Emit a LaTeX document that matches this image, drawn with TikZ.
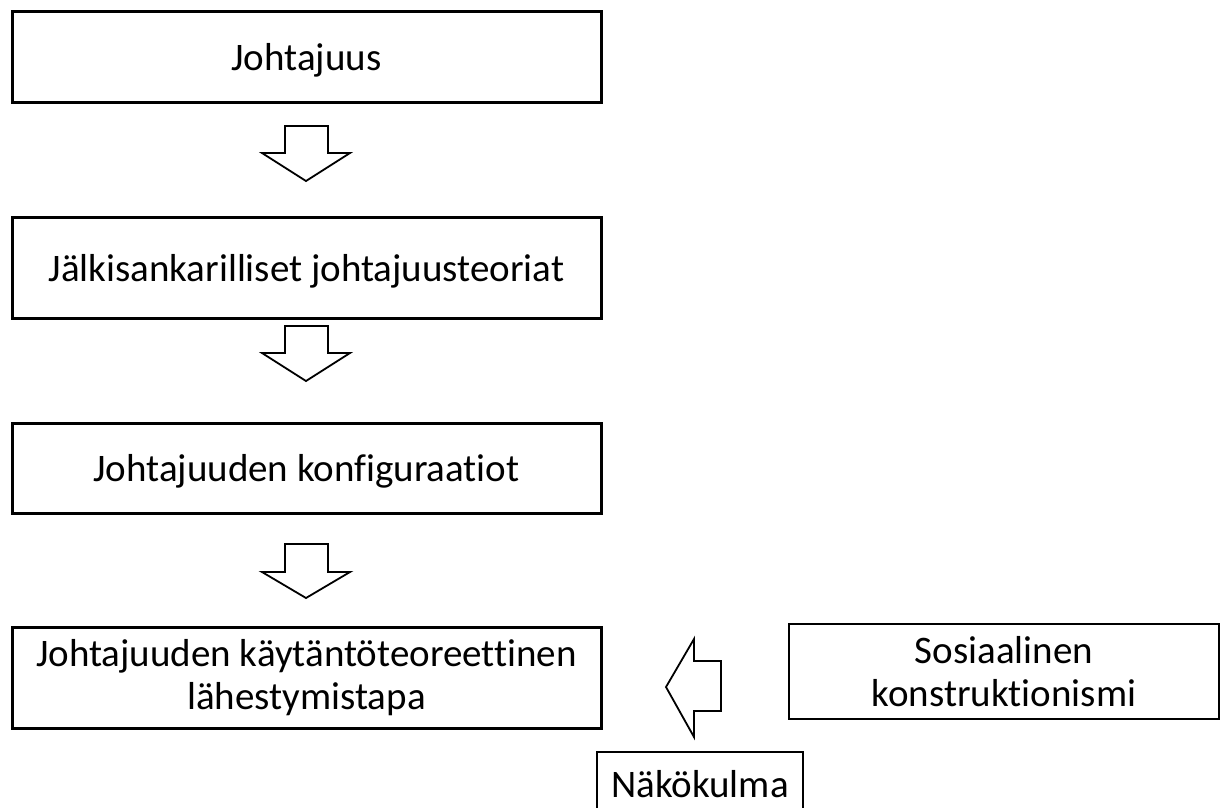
\documentclass[tikz,border=0pt]{standalone}
\usepackage{fontspec}
\setmainfont{Carlito}[Ligatures=NoCommon]
\begin{document}
\begin{tikzpicture}[x=1pt,y=-1pt,
  box/.style={draw=black, line width=3pt, fill=white, align=center, inner sep=0pt,
    font=\fontsize{39}{43}\selectfont},
  oneline/.style={text depth=0pt},
  label/.style={font=\fontsize{39}{43}\selectfont, inner sep=0pt, text depth=0pt},
  frame/.style={draw=black, line width=2pt},
  blockarrow/.style={draw=black, line width=1.8pt, fill=white, line join=miter}]
\useasboundingbox (0,0) rectangle (1227,807);
\node[box, oneline, minimum width=589, minimum height=91] (b1) at (306.5,56.5) {Johtajuus};
\node[box, oneline, minimum width=589, minimum height=101] (b2) at (306.5,267.5) {Jälkisankarilliset johtajuusteoriat};
\node[box, oneline, minimum width=589, minimum height=90] (b3) at (306.5,468) {Johtajuuden konfiguraatiot};
\node[box, minimum width=589, minimum height=101] (b4) at (306.5,677.5) {Johtajuuden käytäntöteoreettinen\\lähestymistapa};
\node[box, line width=2.5pt, minimum width=430, minimum height=95] (sos) at (1004,671.5) {Sosiaalinen\\konstruktionismi};
\node[label, anchor=base] (nak) at (700,797) {Näkökulma};
\draw[frame] (597,812) -- (597,752) -- (803,752) -- (803,812);
% down arrows
\draw[blockarrow] (285,126) -- (328,126) -- (328,153) -- (350,153) -- (306,181) -- (262,153) -- (285,153) -- cycle;
\draw[blockarrow] (285,326) -- (328,326) -- (328,353) -- (350,353) -- (306,381) -- (262,353) -- (285,353) -- cycle;
\draw[blockarrow] (285,544) -- (328,544) -- (328,572) -- (350,572) -- (306,598) -- (262,572) -- (285,572) -- cycle;
% left arrow
\draw[blockarrow] (721,661) -- (721,711) -- (694,711) -- (694,737) -- (666,687) -- (694,639) -- (694,661) -- cycle;
\end{tikzpicture}
\end{document}
